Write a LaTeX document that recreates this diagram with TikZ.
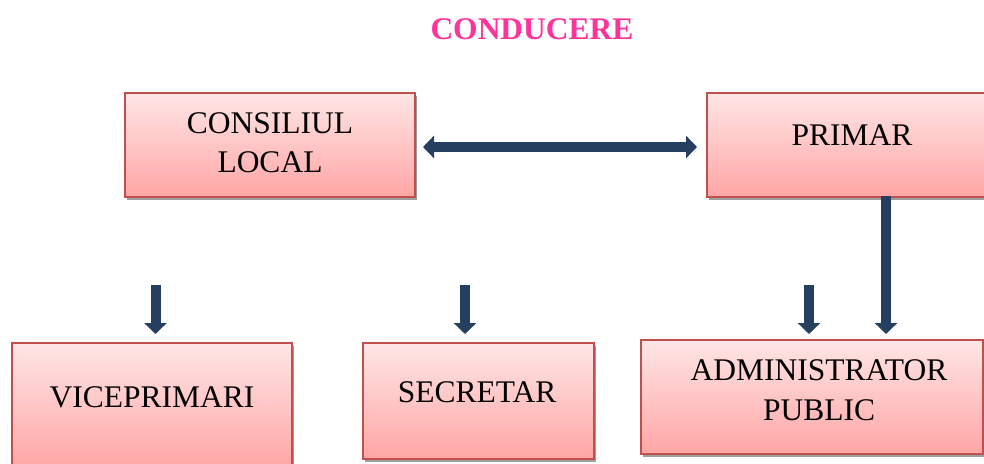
\documentclass[tikz,border=0pt]{standalone}
\usepackage{fontspec}
\setmainfont{Liberation Serif}
\usetikzlibrary{arrows.meta,shadows}
\definecolor{boxtop}{HTML}{FFE6E6}
\definecolor{boxbot}{HTML}{FFA5A5}
\definecolor{boxline}{HTML}{C0504D}
\definecolor{arrblue}{HTML}{243F60}
\definecolor{titlepink}{HTML}{FF3399}
\tikzset{
  box/.style={draw=boxline, line width=1.5pt, top color=boxtop, bottom color=boxbot,
    inner sep=0pt, drop shadow={shadow xshift=2pt, shadow yshift=-3pt, fill=black!38, opacity=1}},
  boxtext/.style={font=\fontsize{31.5}{39}\selectfont, align=center, anchor=base, inner sep=0pt},
  bigarrow/.style={draw=arrblue, line width=10pt, -{Triangle[width=22pt,length=11pt]}},
  dblarrow/.style={draw=arrblue, line width=10pt, {Triangle[width=22pt,length=11pt]}-{Triangle[width=22pt,length=11pt]}}
}
\begin{document}
\begin{tikzpicture}[x=1pt,y=-1pt]
\useasboundingbox (0,0) rectangle (984,463);
\clip (0,0) rectangle (984,463);
\fill[white] (0,0) rectangle (984,463);
\node[font=\fontsize{31.5}{39}\selectfont\bfseries, text=titlepink, anchor=base, inner sep=0pt] (title) at (532,39) {CONDUCERE};
% boxes
\node[box, minimum width=290pt, minimum height=104pt] (cl) at (270,145) {};
\node[box, minimum width=290pt, minimum height=104pt] (pr) at (852,145) {};
\node[box, minimum width=280pt, minimum height=126pt] (vp) at (152,406) {};
\node[box, minimum width=231pt, minimum height=116pt] (sc) at (478.5,401) {};
\node[box, minimum width=342pt, minimum height=114pt] (ad) at (812,397) {};
% texts
\node[boxtext] (clt) at (270,172) {CONSILIUL\\LOCAL};
\node[boxtext] (prt) at (852,145) {PRIMAR};
\node[boxtext] (vpt) at (152,407) {VICEPRIMARI};
\node[boxtext] (sct) at (477,402) {SECRETAR};
\node[boxtext, font=\fontsize{31.5}{40}\selectfont] (adt) at (819,420) {ADMINISTRATOR\\PUBLIC};
% connectors
\coordinate (dl) at (423,147);
\coordinate (dr) at (697,147);
\draw[dblarrow] (dl) -- (dr);
\coordinate (a1) at (155.5,285);
\coordinate (a1e) at (155.5,334);
\coordinate (a2) at (465,285);
\coordinate (a2e) at (465,334);
\coordinate (a3) at (809,285);
\coordinate (a3e) at (809,334);
\coordinate (a4) at (886,196);
\coordinate (a4e) at (886,334);
\draw[bigarrow] (a1) -- (a1e);
\draw[bigarrow] (a2) -- (a2e);
\draw[bigarrow] (a3) -- (a3e);
\draw[bigarrow] (a4) -- (a4e);
\end{tikzpicture}
\end{document}
